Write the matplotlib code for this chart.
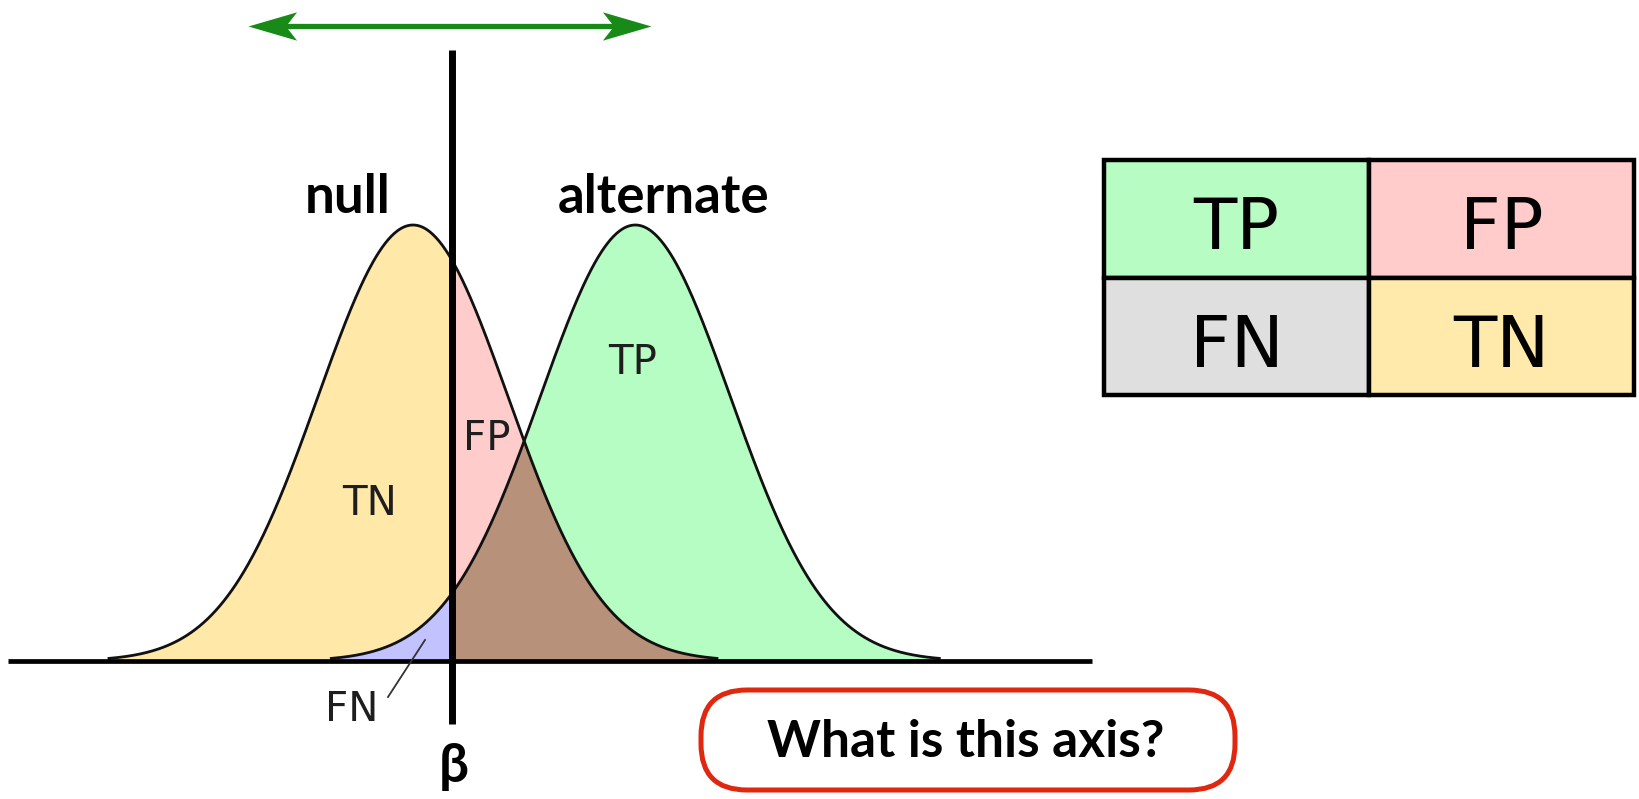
import numpy as np
import matplotlib
matplotlib.use("Agg")
import matplotlib.pyplot as plt
from matplotlib.patches import Rectangle, FancyBboxPatch
from matplotlib.path import Path

# two normal curves, x in units of one standard deviation
null_mean = 0.0
alt_mean = 2.34
sd = 1.0
beta = 0.41
peak = 1.0
tail = 3.2  # curves are drawn out to this many sd

dist_labels = ["null", "alternate"]
region_labels = ["TN", "FP", "TP", "FN"]
table_labels = [["TP", "FP"], ["FN", "TN"]]
table_colors = [["#b7fcc2", "#ffcbcb"], ["#dfdfdf", "#ffe9ab"]]

col_tn = "#ffe8a8"
col_fp = "#ffcccc"
col_tp = "#b5fdc3"
col_fn = "#c2c2ff"
col_both = "#b8917a"

W, H = 1639, 799
fig = plt.figure(figsize=(W / 100, H / 100), dpi=100)
ax = fig.add_axes([0, 0, 1, 1])
ax.axis("off")

# pixel layout: null mean at x=413, sd = 95 px, baseline at y=661, peak 436 px tall
sd_px, x0_px, base_px, peak_px = 95.0, 413.0, 661.0, 436.0
ax.set_xlim(-x0_px / sd_px, (W - x0_px) / sd_px)
ax.set_ylim((base_px - H) / peak_px, base_px / peak_px)


def px(x, y):
    # figure fraction from pixel position (top-left origin)
    return x / W, 1 - y / H


def curve(x, mu):
    return peak * np.exp(-0.5 * ((x - mu) / sd) ** 2)


xs = np.linspace(null_mean - tail * sd, alt_mean + tail * sd, 1200)
yn = np.where(xs <= null_mean + tail * sd, curve(xs, null_mean), 0)
ya = np.where(xs >= alt_mean - tail * sd, curve(xs, alt_mean), 0)
left = xs <= beta
right = xs >= beta

ax.fill_between(xs, 0, yn, where=left, color=col_tn, lw=0, interpolate=True)
ax.fill_between(xs, 0, ya, where=left, color=col_fn, lw=0, interpolate=True)
ax.fill_between(xs, 0, yn, where=right, color=col_fp, lw=0, interpolate=True)
ax.fill_between(xs, 0, ya, where=right, color=col_tp, lw=0, interpolate=True)
ax.fill_between(xs, 0, np.minimum(yn, ya), where=right, color=col_both, lw=0, interpolate=True)

xn = np.linspace(null_mean - tail * sd, null_mean + tail * sd, 600)
xa = np.linspace(alt_mean - tail * sd, alt_mean + tail * sd, 600)
ax.plot(xn, curve(xn, null_mean), color="#111111", lw=2, zorder=3)
ax.plot(xa, curve(xa, alt_mean), color="#111111", lw=2, zorder=3)

# baseline and threshold line
ax.hlines(0, -4.26, 7.15, color="black", lw=3.4, zorder=4)
ax.vlines(beta, (base_px - 724) / peak_px, (base_px - 50) / peak_px, color="black", lw=5, zorder=5)

# green double arrow above the threshold, barbed heads
arr_y = 1.456
arr_l, arr_r = -1.74, 2.50
green = "#178a17"
head_r = Path([(0, 0), (-48, 14), (-37, 0), (-48, -14), (0, 0)],
              [Path.MOVETO, Path.LINETO, Path.LINETO, Path.LINETO, Path.CLOSEPOLY])
head_l = Path([(0, 0), (48, 14), (37, 0), (48, -14), (0, 0)],
              [Path.MOVETO, Path.LINETO, Path.LINETO, Path.LINETO, Path.CLOSEPOLY])
ax.plot([arr_l + 0.3, arr_r - 0.3], [arr_y, arr_y], color=green, lw=3.8,
        solid_capstyle="butt", zorder=6)
ax.plot([arr_r], [arr_y], marker=head_r, markersize=70, color=green, mew=0, zorder=7)
ax.plot([arr_l], [arr_y], marker=head_l, markersize=70, color=green, mew=0, zorder=7)

bold = ["Lato", "DejaVu Sans"]
fig.text(*px(348, 213), dist_labels[0], family=bold, weight="bold", fontsize=38,
         ha="center", va="baseline")
fig.text(*px(664, 213), dist_labels[1], family=bold, weight="bold", fontsize=38,
         ha="center", va="baseline")

thin = dict(family="DejaVu Sans", weight="normal", fontsize=29, color="#1e1e1e",
            ha="center", va="baseline")
fig.text(*px(370, 515), region_labels[0], **thin)
fig.text(*px(487, 450), region_labels[1], **thin)
fig.text(*px(633, 374), region_labels[2], **thin)
fig.text(*px(352, 721), region_labels[3], **thin)
ax.plot([(388 - x0_px) / sd_px, (425 - x0_px) / sd_px],
        [(base_px - 697) / peak_px, (base_px - 640) / peak_px],
        color="#333333", lw=1.3, zorder=6)

fig.text(*px(454, 782), "β", family=bold, weight="bold", fontsize=38,
         ha="center", va="baseline")

# legend table
tx0, ty0, tx1, ty1 = 1104, 160, 1634, 395
axt = fig.add_axes([tx0 / W, 1 - ty1 / H, (tx1 - tx0) / W, (ty1 - ty0) / H])
axt.set_xlim(0, 2)
axt.set_ylim(2, 0)
axt.axis("off")
for r in range(2):
    for c in range(2):
        axt.add_patch(Rectangle((c, r), 1, 1, facecolor=table_colors[r][c],
                                edgecolor="black", lw=3.2, clip_on=False))
        axt.text(c + 0.5, r + 0.76, table_labels[r][c], fontsize=51,
                 family="DejaVu Sans", ha="center", va="baseline")

# red question box
box = FancyBboxPatch((7.01, (H - 790) / 100), 5.34, 1.0,
                     boxstyle="round,pad=0,rounding_size=0.46",
                     transform=fig.dpi_scale_trans, facecolor="white",
                     edgecolor="#e0270f", lw=3.6)
fig.add_artist(box)
fig.text(*px(966, 757), "What is this axis?", family=bold, weight="bold",
         fontsize=37, ha="center", va="baseline")

fig.savefig("out.png", dpi=100)
